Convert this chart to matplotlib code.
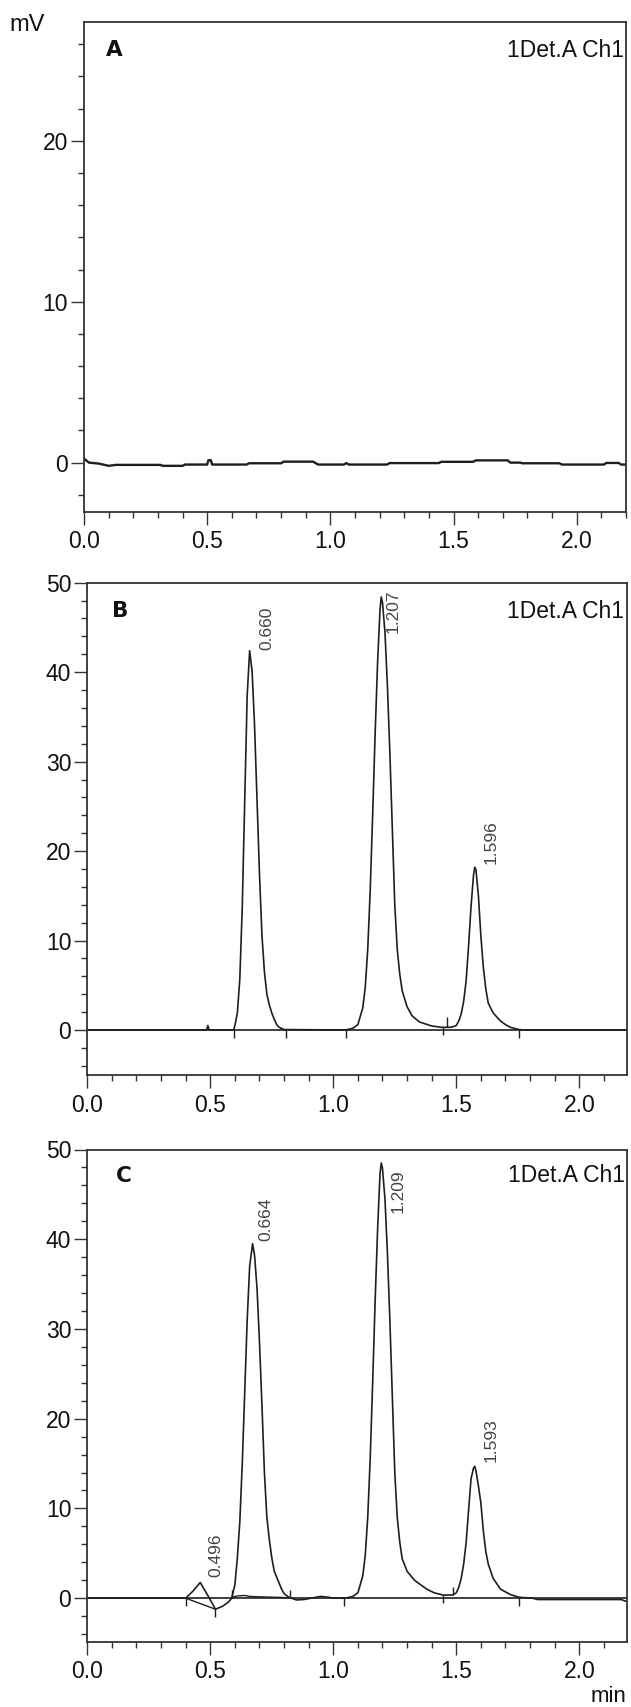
import numpy as np
import matplotlib.pyplot as plt
from matplotlib.ticker import MultipleLocator

plt.rcParams['font.family'] = ['Liberation Sans', 'DejaVu Sans']

# ---------------- data ----------------
# panel A: blank, flat baseline with small drift
a_t = [0.0, 0.02, 0.06, 0.10, 0.13, 0.31, 0.32, 0.40, 0.41, 0.50, 0.505, 0.515, 0.52,
       0.66, 0.67, 0.80, 0.81, 0.93, 0.95, 1.055, 1.065, 1.075, 1.23, 1.24, 1.44, 1.45,
       1.58, 1.59, 1.72, 1.73, 1.77, 1.78, 1.93, 1.94, 2.11, 2.12, 2.17, 2.18, 2.2]
a_mv = [0.25, 0.0, -0.06, -0.2, -0.14, -0.14, -0.2, -0.2, -0.12, -0.12, 0.15, 0.15, -0.12,
        -0.12, -0.04, -0.04, 0.06, 0.06, -0.12, -0.12, -0.03, -0.12, -0.12, -0.03, -0.03, 0.05,
        0.05, 0.14, 0.14, 0.0, 0.0, -0.04, -0.04, -0.12, -0.12, -0.02, -0.02, -0.12, -0.12]

# panel B: standard
b_t = [0.0, 0.485, 0.49, 0.495, 0.595, 0.60, 0.61, 0.62, 0.63, 0.64, 0.65, 0.66, 0.67,
       0.68, 0.69, 0.70, 0.71, 0.72, 0.73, 0.74, 0.75, 0.76, 0.77, 0.78, 0.80, 1.05,
       1.08, 1.10, 1.12, 1.13, 1.14, 1.15, 1.16, 1.17, 1.18, 1.19, 1.195, 1.20, 1.21,
       1.22, 1.23, 1.24, 1.25, 1.26, 1.27, 1.28, 1.30, 1.32, 1.35, 1.40, 1.44, 1.48,
       1.50, 1.51, 1.52, 1.53, 1.54, 1.55, 1.56, 1.57, 1.575, 1.58, 1.59, 1.60, 1.61,
       1.62, 1.63, 1.65, 1.68, 1.70, 1.72, 1.755, 1.78, 2.19]
b_mv = [0.0, 0.0, 0.5, 0.0, 0.0, 0.5, 1.9, 5.7, 13.8, 25.7, 37.4, 42.4, 40.1,
        34.0, 25.7, 17.4, 10.6, 6.5, 4.0, 2.8, 1.9, 1.2, 0.6, 0.3, 0.05, 0.0,
        0.2, 0.6, 2.5, 4.8, 9.0, 15.5, 24.0, 33.0, 41.0, 47.0, 48.4, 47.8, 44.5,
        38.5, 31.0, 22.5, 14.0, 9.0, 6.3, 4.4, 2.6, 1.6, 0.9, 0.45, 0.3, 0.3,
        0.5, 1.0, 1.8, 3.2, 5.5, 9.4, 13.8, 17.3, 18.2, 17.9, 15.0, 10.5, 7.0,
        4.6, 3.0, 1.9, 1.0, 0.6, 0.3, 0.05, 0.0, 0.0]
b_labels = ['0.660', '1.207', '1.596']
b_label_t = [0.728, 1.245, 1.64]
b_label_mv = [42.5, 44.4, 18.6]
b_marks_t = [0.597, 0.807, 1.052, 1.444, 1.755]
b_marks_mv = [0.0, 0.0, 0.0, 0.3, 0.0]
b_up_t = [1.462]
b_up_mv = [0.3]

# panel C: sample
c_t = [0.0, 0.40, 0.43, 0.459, 0.49, 0.521, 0.55, 0.575, 0.587, 0.60, 0.61, 0.62, 0.63,
       0.64, 0.65, 0.66, 0.672, 0.68, 0.69, 0.70, 0.71, 0.72, 0.73, 0.74, 0.75, 0.76,
       0.775, 0.79, 0.80, 0.82, 0.85, 0.88, 0.92, 0.95, 0.98, 1.00, 1.05, 1.08, 1.10,
       1.12, 1.13, 1.14, 1.15, 1.16, 1.17, 1.18, 1.19, 1.195, 1.20, 1.21, 1.22, 1.23,
       1.24, 1.25, 1.26, 1.27, 1.28, 1.30, 1.33, 1.35, 1.38, 1.41, 1.445, 1.485, 1.50,
       1.51, 1.52, 1.53, 1.54, 1.55, 1.56, 1.57, 1.575, 1.58, 1.59, 1.60, 1.61, 1.62,
       1.63, 1.65, 1.68, 1.72, 1.755, 1.81, 1.83, 2.17, 2.19]
c_mv = [0.0, 0.0, 0.8, 1.75, 0.3, -1.23, -0.9, -0.4, 0.0, 1.5, 4.5, 8.5, 15.0,
        23.0, 31.0, 37.0, 39.5, 38.2, 34.5, 28.5, 21.5, 14.0, 9.0, 6.5, 4.5, 3.0,
        2.0, 1.0, 0.5, 0.1, -0.2, -0.15, 0.05, 0.2, 0.1, 0.0, 0.0, 0.2, 0.6,
        2.5, 4.8, 9.0, 15.5, 24.0, 33.0, 41.0, 47.3, 48.5, 47.9, 44.5, 38.5, 31.0,
        22.5, 14.0, 9.0, 6.3, 4.4, 3.0, 2.0, 1.6, 1.0, 0.6, 0.35, 0.35, 0.6,
        1.2, 2.2, 3.8, 6.2, 9.8, 13.3, 14.5, 14.7, 14.2, 12.5, 10.6, 7.5, 5.2,
        3.8, 2.2, 1.0, 0.4, 0.1, 0.0, -0.15, -0.15, -0.35]
c_base_t = [0.40, 0.521, None, 0.587, 0.61, 0.64, 0.66, 0.70, 0.825]
c_base_mv = [0.0, -1.23, None, 0.1, 0.25, 0.3, 0.2, 0.15, 0.05]
c_labels = ['0.496', '0.664', '1.209', '1.593']
c_label_t = [0.521, 0.726, 1.265, 1.64]
c_label_mv = [2.4, 39.8, 42.9, 15.2]
c_marks_t = [0.401, 0.521, 1.045, 1.444, 1.755]
c_marks_mv = [0.0, -1.23, 0.0, 0.3, 0.0]
c_up_t = [0.587, 0.825, 1.487]
c_up_mv = [0.0, 0.05, 0.3]

# ---------------- figure ----------------
W, H = 631, 1707
fig = plt.figure(figsize=(W / 100, H / 100), dpi=100)
ink = '#1e1e1e'


def make_ax(left, right, top, bottom):
    return fig.add_axes([left / W, 1 - bottom / H, (right - left) / W, (bottom - top) / H])


def style(ax, xmax, ylo, yhi, yticks):
    ax.set_xlim(0, xmax)
    ax.set_ylim(ylo, yhi)
    ax.set_xticks([0.0, 0.5, 1.0, 1.5, 2.0])
    ax.set_xticklabels(['0.0', '0.5', '1.0', '1.5', '2.0'])
    ax.set_yticks(yticks)
    ax.xaxis.set_minor_locator(MultipleLocator(0.1))
    ax.yaxis.set_minor_locator(MultipleLocator(2))
    ax.tick_params(which='major', length=9.5, width=1.0, color='#333333', labelsize=16.5,
                   labelcolor='#111111')
    ax.tick_params(axis='x', which='major', pad=4)
    ax.tick_params(axis='y', which='major', pad=2)
    ax.tick_params(which='minor', length=4.5, width=1.0, color='#333333')
    for s in ax.spines.values():
        s.set_color('#333333')
        s.set_linewidth(1.3)


def head(ax, letter, dy, dx):
    ax.text(dx, 1 - dy, letter, transform=ax.transAxes, fontsize=15.5, fontweight='bold',
            family=['DejaVu Sans'], ha='left', va='center', color='#111111')
    ax.text(0.996, 1 - dy, '1Det.A Ch1', transform=ax.transAxes, fontsize=16.5,
            ha='right', va='center', color='#111111')


# A
axA = make_ax(84, 626, 21.7, 511.7)
style(axA, 2.2, -3.05, 27.4, [0, 10, 20])
axA.plot(a_t, a_mv, color=ink, lw=1.7)
head(axA, 'A', 0.058, 0.04)

# B
axB = make_ax(87.3, 626.5, 582.7, 1075)
style(axB, 2.192, -5.03, 50, [0, 10, 20, 30, 40, 50])
axB.axhline(0, color=ink, lw=1.2)
axB.plot(b_t, b_mv, color=ink, lw=1.2)
axB.plot(b_marks_t, b_marks_mv, ls='none', marker=3, ms=6, mew=1.0, color=ink)
axB.plot(b_up_t, b_up_mv, ls='none', marker=2, ms=7, mew=1.0, color=ink)
for s, t, v in zip(b_labels, b_label_t, b_label_mv):
    axB.text(t, v, s, rotation=90, ha='center', va='bottom', fontsize=12.5, color='#444444')
head(axB, 'B', 0.058, 0.045)

# C
axC = make_ax(87.3, 627, 1149.5, 1641.7)
style(axC, 2.194, -4.85, 50, [0, 10, 20, 30, 40, 50])
axC.axhline(0, color=ink, lw=1.2)
axC.plot(c_t, c_mv, color=ink, lw=1.2)
axC.plot(c_base_t, c_base_mv, color=ink, lw=1.0)
axC.plot(c_marks_t, c_marks_mv, ls='none', marker=3, ms=6, mew=1.0, color=ink)
axC.plot(c_up_t, c_up_mv, ls='none', marker=2, ms=6, mew=1.0, color=ink)
for s, t, v in zip(c_labels, c_label_t, c_label_mv):
    axC.text(t, v, s, rotation=90, ha='center', va='bottom', fontsize=12.5, color='#444444')
head(axC, 'C', 0.053, 0.053)

fig.text(27 / W, 1 - 25 / H, 'mV', fontsize=17, ha='center', va='center', color='#111111')
fig.text(609 / W, 1 - 1697 / H, 'min', fontsize=16, ha='center', va='center', color='#111111')

fig.savefig('out.png', dpi=100)
